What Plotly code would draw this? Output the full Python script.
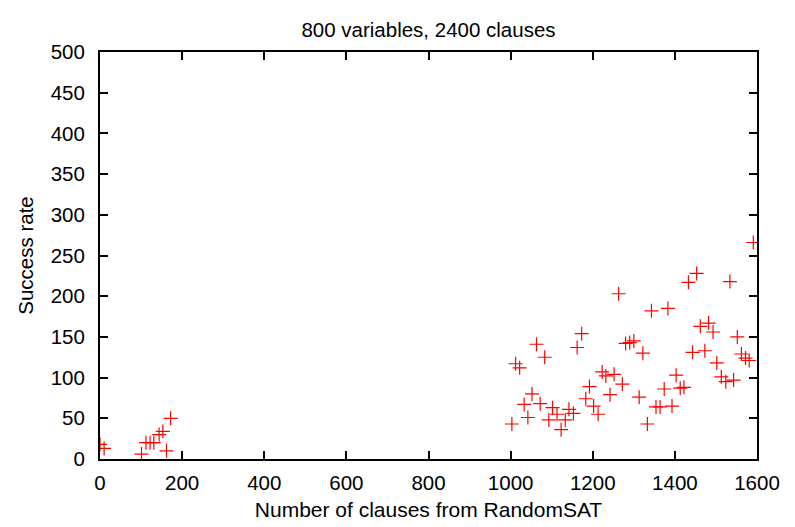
import plotly.graph_objects as go

# Number of clauses from RandomSAT
clauses = [0, 10, 101, 112, 122, 131, 144, 153, 162, 172,
           1003, 1012, 1022, 1033, 1042, 1052, 1063, 1072, 1083, 1093,
           1102, 1113, 1123, 1133, 1142, 1153, 1162, 1173, 1183, 1192,
           1202, 1213, 1223, 1232, 1242, 1252, 1263, 1272, 1280, 1290, 1300,
           1313, 1322, 1333, 1343, 1354, 1364, 1374, 1383, 1393, 1403,
           1413, 1422, 1433, 1443, 1453, 1462, 1473, 1482, 1493, 1502,
           1513, 1524, 1534, 1543, 1552, 1562, 1572, 1581, 1591]
# Success rate
success = [18, 13, 6, 20, 20, 20, 30, 34, 10, 50,
           43, 117, 112, 67, 51, 80, 141, 68, 125, 48,
           63, 55, 36, 48, 61, 56, 137, 154, 74, 89,
           65, 55, 107, 102, 79, 104, 203, 92, 142, 143, 145,
           76, 130, 43, 182, 64, 64, 86, 185, 65, 103,
           87, 88, 217, 131, 228, 163, 133, 167, 156, 118,
           101, 95, 218, 97, 150, 129, 124, 121, 266]

title_text = "800 variables, 2400 clauses"
x_title = "Number of clauses from RandomSAT"
y_title = "Success rate"
x_ticks = [0, 200, 400, 600, 800, 1000, 1200, 1400, 1600]
y_ticks = [0, 50, 100, 150, 200, 250, 300, 350, 400, 450, 500]

fig = go.Figure()
fig.add_trace(go.Scatter(
    x=clauses, y=success, mode="markers",
    marker=dict(symbol="cross-thin", size=10, color="rgba(0,0,0,0)",
                line=dict(color="#ff0000", width=1.2)),
    showlegend=False,
))

font = dict(family="Liberation Sans, Arial, sans-serif", size=20.5, color="#000000")

fig.update_layout(
    width=787, height=519,
    margin=dict(l=92, r=38, t=44, b=68),
    paper_bgcolor="white", plot_bgcolor="white",
    font=font,
    title=dict(text=title_text, x=0.5, xref="paper", xanchor="center",
               y=1 - 22 / 519, yref="container", yanchor="middle",
               font=dict(size=20.5)),
    xaxis=dict(
        range=[0, 1600], tickvals=x_ticks, ticktext=[str(v) for v in x_ticks],
        showgrid=False, zeroline=False, automargin=False,
        showline=True, linecolor="black", linewidth=2, mirror="allticks",
        ticks="inside", ticklen=8, tickwidth=1.5, tickcolor="black",
        ticklabelstandoff=4, tickfont=dict(size=20.5),
        title=dict(text=x_title, standoff=10, font=dict(size=21)),
    ),
    yaxis=dict(
        range=[0, 500], tickvals=y_ticks, ticktext=[str(v) for v in y_ticks],
        showgrid=False, zeroline=False, automargin=False,
        showline=True, linecolor="black", linewidth=2, mirror="allticks",
        ticks="inside", ticklen=8, tickwidth=1.5, tickcolor="black",
        ticklabelstandoff=9, tickfont=dict(size=20.5),
        title=dict(text=y_title, standoff=12, font=dict(size=20.5)),
    ),
)

fig.write_html("out.html")
